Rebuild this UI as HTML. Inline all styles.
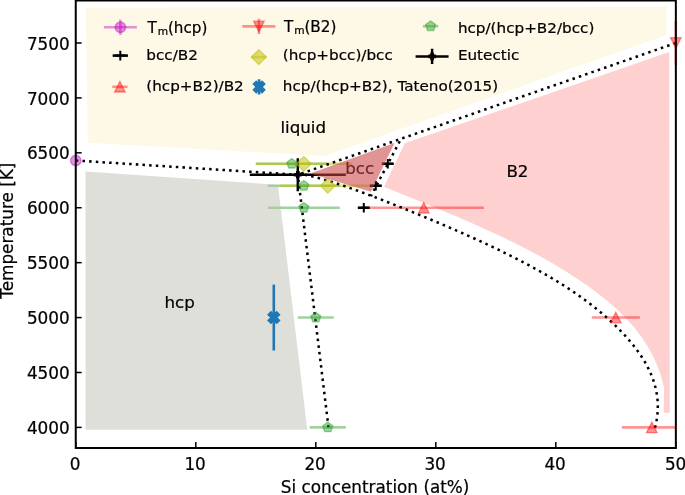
<!DOCTYPE html>
<html><head><meta charset="utf-8"><title>Phase diagram</title><style>html,body{margin:0;padding:0;background:#fff;}svg{display:block;}</style></head>
<body><svg width="685" height="495" viewBox="0 0 685 495"><defs><clipPath id="axclip"><rect x="75.75" y="0.55" width="600.1" height="447.4"/></clipPath></defs><rect width="685" height="495" fill="#fff"/><path d="M85.8,7.65 L666.7,6.85 L666.7,34.9 L324.4,156.1 L87.8,142.7 Z" fill="#fef8e6" />
<path d="M404.8,143.2 L669.2,52.1 L669.8,412.8 L663.5,412.8 L664.15,388.31 L663.74,386.43 L663.3,384.57 L662.84,382.72 L662.36,380.88 L661.85,379.07 L661.33,377.27 L660.78,375.48 L660.2,373.71 L659.61,371.96 L658.99,370.22 L658.35,368.49 L657.69,366.79 L657.01,365.09 L656.31,363.41 L655.59,361.75 L654.85,360.1 L654.08,358.47 L653.3,356.85 L652.5,355.24 L651.68,353.65 L650.84,352.07 L649.98,350.5 L649.1,348.95 L648.21,347.42 L647.29,345.89 L646.36,344.38 L645.41,342.88 L644.45,341.4 L643.46,339.93 L642.46,338.47 L641.45,337.02 L640.42,335.58 L639.37,334.16 L638.31,332.75 L637.23,331.35 L636.13,329.97 L635.02,328.59 L633.9,327.23 L632.76,325.88 L631.61,324.54 L630.44,323.21 L629.27,321.89 L628.07,320.58 L626.87,319.29 L625.65,318 L624.42,316.72 L623.18,315.46 L621.92,314.2 L620.65,312.96 L619.38,311.72 L618.09,310.5 L616.78,309.28 L615.47,308.08 L614.15,306.88 L612.82,305.69 L611.48,304.51 L610.13,303.34 L608.77,302.18 L607.4,301.03 L606.02,299.89 L604.63,298.75 L603.23,297.63 L601.83,296.51 L600.42,295.4 L599,294.3 L597.57,293.2 L596.14,292.11 L594.7,291.03 L593.25,289.96 L591.79,288.9 L590.33,287.84 L588.87,286.79 L587.4,285.74 L585.92,284.7 L584.44,283.67 L582.95,282.65 L581.46,281.63 L579.97,280.62 L578.47,279.61 L576.97,278.61 L575.46,277.61 L573.95,276.63 L572.44,275.64 L570.92,274.66 L569.4,273.69 L567.87,272.73 L566.34,271.76 L564.81,270.81 L563.27,269.86 L561.74,268.91 L560.19,267.98 L558.65,267.04 L557.1,266.11 L555.55,265.19 L553.99,264.27 L552.43,263.36 L550.87,262.45 L549.31,261.54 L547.74,260.65 L546.17,259.75 L544.59,258.86 L543.02,257.98 L541.44,257.1 L539.86,256.23 L538.27,255.35 L536.68,254.49 L535.09,253.63 L533.5,252.77 L531.91,251.92 L530.31,251.07 L528.71,250.23 L527.11,249.39 L525.5,248.55 L523.9,247.72 L522.29,246.89 L520.67,246.07 L519.06,245.25 L517.45,244.44 L515.83,243.63 L514.21,242.82 L512.59,242.02 L510.96,241.22 L509.34,240.42 L507.71,239.63 L506.08,238.84 L504.45,238.05 L502.82,237.27 L501.19,236.49 L499.55,235.72 L497.91,234.95 L496.28,234.18 L494.64,233.41 L493,232.65 L491.35,231.89 L489.71,231.13 L488.06,230.38 L486.42,229.63 L484.77,228.88 L483.12,228.14 L481.47,227.4 L479.82,226.66 L478.17,225.92 L476.52,225.19 L474.87,224.46 L473.21,223.73 L471.56,223.01 L469.9,222.28 L468.25,221.56 L466.59,220.84 L464.93,220.13 L463.27,219.41 L461.62,218.7 L459.96,217.99 L458.3,217.28 L456.64,216.58 L454.98,215.87 L453.32,215.17 L451.66,214.47 L450,213.77 L448.34,213.08 L446.68,212.38 L445.02,211.69 L443.36,211 L441.7,210.31 L440.04,209.62 L438.38,208.93 L436.72,208.25 L435.06,207.56 L433.4,206.88 L431.74,206.2 L430.08,205.52 L428.43,204.84 L426.77,204.16 L425.11,203.48 L423.46,202.81 L421.8,202.13 L420.15,201.46 L418.49,200.79 L416.84,200.11 L415.19,199.44 L413.54,198.77 L411.89,198.1 L410.24,197.43 L408.59,196.76 L406.94,196.09 L405.3,195.42 L403.65,194.75 L402.01,194.09 L400.37,193.42 L398.73,192.75 L397.09,192.08 L395.45,191.42 L393.81,190.75 L392.18,190.08 L390.54,189.42 L388.91,188.75 L387.28,188.08 L385.65,187.42 L384.03,186.75 Z" fill="#ffd0d0" />
<g clip-path="url(#axclip)">
<line x1="255.8" y1="163.81" x2="327.8" y2="163.81" stroke="rgb(44,160,44)" stroke-opacity="0.46" stroke-width="2.6"/>
<line x1="267.8" y1="185.78" x2="339.8" y2="185.78" stroke="rgb(44,160,44)" stroke-opacity="0.46" stroke-width="2.6"/>
<line x1="267.8" y1="207.74" x2="339.8" y2="207.74" stroke="rgb(44,160,44)" stroke-opacity="0.46" stroke-width="2.6"/>
<line x1="297.8" y1="317.57" x2="333.8" y2="317.57" stroke="rgb(44,160,44)" stroke-opacity="0.46" stroke-width="2.6"/>
<line x1="309.8" y1="427.4" x2="345.8" y2="427.4" stroke="rgb(44,160,44)" stroke-opacity="0.46" stroke-width="2.6"/>
<line x1="255.8" y1="163.81" x2="351.8" y2="163.81" stroke="rgb(191,191,0)" stroke-opacity="0.5" stroke-width="2.6"/>
<line x1="279.8" y1="185.78" x2="375.8" y2="185.78" stroke="rgb(191,191,0)" stroke-opacity="0.5" stroke-width="2.6"/>
<line x1="363.8" y1="207.74" x2="483.8" y2="207.74" stroke="rgb(255,0,0)" stroke-opacity="0.42" stroke-width="2.6"/>
<line x1="591.8" y1="317.57" x2="639.8" y2="317.57" stroke="rgb(255,0,0)" stroke-opacity="0.42" stroke-width="2.6"/>
<line x1="621.8" y1="427.4" x2="681.8" y2="427.4" stroke="rgb(255,0,0)" stroke-opacity="0.42" stroke-width="2.6"/>
<line x1="381.8" y1="163.81" x2="393.8" y2="163.81" stroke="rgb(0,0,0)" stroke-opacity="1" stroke-width="2.6"/>
<line x1="369.8" y1="185.78" x2="381.8" y2="185.78" stroke="rgb(0,0,0)" stroke-opacity="1" stroke-width="2.6"/>
<line x1="357.8" y1="207.74" x2="369.8" y2="207.74" stroke="rgb(0,0,0)" stroke-opacity="1" stroke-width="2.6"/>
<line x1="249.8" y1="174.79" x2="345.8" y2="174.79" stroke="rgb(0,0,0)" stroke-opacity="1" stroke-width="2.5"/>
<line x1="297.8" y1="191.27" x2="297.8" y2="158.32" stroke="rgb(0,0,0)" stroke-opacity="1" stroke-width="2.5"/>
</g>
<line x1="675.8" y1="64.96" x2="675.8" y2="21.03" stroke="rgb(255,0,0)" stroke-opacity="0.42" stroke-width="2.6"/>
<path d="M85.5,171.6 L277.9,184.8 L307.3,429.7 L85.5,429.7 Z" fill="rgb(189,191,177)" fill-opacity="0.5"/>
<line x1="273.8" y1="350.52" x2="273.8" y2="284.62" stroke="rgb(31,119,180)" stroke-opacity="1" stroke-width="2.6"/>
<text transform="translate(280.4,132.9) scale(1.0,1.0)" font-size="16.67" text-anchor="start" font-family="DejaVu Sans, sans-serif" stroke="currentColor" stroke-width="0.22" >liquid</text>
<text transform="translate(345.3,173.8) scale(1.0,1.0)" font-size="16.67" text-anchor="start" font-family="DejaVu Sans, sans-serif" stroke="currentColor" stroke-width="0.22" >bcc</text>
<text transform="translate(506.4,176.9) scale(1.0,1.0)" font-size="16.67" text-anchor="start" font-family="DejaVu Sans, sans-serif" stroke="currentColor" stroke-width="0.22" >B2</text>
<text transform="translate(164.5,307.5) scale(1.0,1.0)" font-size="16.67" text-anchor="start" font-family="DejaVu Sans, sans-serif" stroke="currentColor" stroke-width="0.22" >hcp</text>
<path d="M75.8,160.52 L297.8,174.79" fill="none" stroke="#000" stroke-width="2.52" stroke-dasharray="2.52 4.16" stroke-dashoffset="0" stroke-linecap="butt" stroke-linejoin="round"/>
<path d="M675.8,43 L297.8,174.79" fill="none" stroke="#000" stroke-width="2.52" stroke-dasharray="2.52 4.16" stroke-dashoffset="0" stroke-linecap="butt" stroke-linejoin="round"/>
<path d="M328.5,427.4 L297.8,174.79" fill="none" stroke="#000" stroke-width="2.52" stroke-dasharray="2.52 4.16" stroke-dashoffset="0" stroke-linecap="butt" stroke-linejoin="round"/>
<path d="M298.09,173.4 L299.23,173.61 L300.38,173.83 L301.52,174.05 L302.67,174.28 L303.81,174.52 L304.95,174.76 L306.09,175 L307.23,175.26 L308.37,175.51 L309.51,175.78 L310.64,176.05 L311.78,176.32 L312.91,176.6 L314.05,176.88 L315.18,177.17 L316.31,177.46 L317.44,177.75 L318.57,178.06 L319.7,178.36 L320.83,178.67 L321.95,178.99 L323.08,179.3 L324.2,179.63 L325.33,179.95 L326.45,180.28 L327.57,180.62 L328.69,180.95 L329.82,181.3 L330.94,181.64 L332.06,181.99 L333.17,182.34 L334.29,182.69 L335.41,183.05 L336.53,183.41 L337.64,183.78 L338.76,184.14 L339.87,184.51 L340.99,184.88 L342.1,185.26 L343.22,185.64 L344.33,186.02 L345.44,186.4 L346.55,186.78 L347.66,187.17 L348.78,187.56 L349.89,187.95 L351,188.34 L352.11,188.73 L353.22,189.13 L354.33,189.53 L355.43,189.93 L356.54,190.33 L357.65,190.73 L358.76,191.13 L359.87,191.54 L360.98,191.94 L362.08,192.35 L363.19,192.76 L364.3,193.17 L365.4,193.58 L366.51,193.99 L367.61,194.4 L368.72,194.82 L369.82,195.23 L370.93,195.65 L372.03,196.07 L373.14,196.49 L374.24,196.91 L375.35,197.33 L376.45,197.75 L377.55,198.17 L378.65,198.6 L379.76,199.02 L380.86,199.45 L381.96,199.88 L383.06,200.3 L384.16,200.73 L385.26,201.16 L386.37,201.59 L387.47,202.02 L388.57,202.46 L389.67,202.89 L390.76,203.32 L391.86,203.76 L392.96,204.19 L394.06,204.63 L395.16,205.07 L396.26,205.5 L397.35,205.94 L398.45,206.38 L399.55,206.82 L400.64,207.26 L401.74,207.7 L402.84,208.14 L403.93,208.58 L405.03,209.02 L406.12,209.47 L407.22,209.91 L408.31,210.35 L409.4,210.8 L410.5,211.24 L411.59,211.69 L412.68,212.13 L413.77,212.58 L414.87,213.02 L415.96,213.47 L417.05,213.92 L418.14,214.36 L419.23,214.81 L420.32,215.26 L421.41,215.71 L422.5,216.16 L423.59,216.61 L424.68,217.06 L425.77,217.51 L426.86,217.96 L427.94,218.41 L429.03,218.86 L430.12,219.32 L431.21,219.77 L432.29,220.22 L433.38,220.68 L434.46,221.13 L435.55,221.59 L436.63,222.04 L437.72,222.5 L438.8,222.96 L439.89,223.42 L440.97,223.88 L442.05,224.33 L443.13,224.79 L444.22,225.26 L445.3,225.72 L446.38,226.18 L447.46,226.64 L448.54,227.11 L449.62,227.57 L450.7,228.04 L451.78,228.5 L452.86,228.97 L453.94,229.44 L455.02,229.91 L456.09,230.38 L457.17,230.85 L458.25,231.32 L459.32,231.79 L460.4,232.26 L461.47,232.74 L462.55,233.21 L463.62,233.69 L464.7,234.16 L465.77,234.64 L466.84,235.12 L467.92,235.6 L468.99,236.08 L470.06,236.56 L471.13,237.05 L472.2,237.53 L473.27,238.01 L474.34,238.5 L475.41,238.99 L476.48,239.47 L477.55,239.96 L478.62,240.45 L479.69,240.94 L480.75,241.44 L481.82,241.93 L482.89,242.42 L483.95,242.92 L485.02,243.42 L486.08,243.91 L487.14,244.41 L488.21,244.91 L489.27,245.42 L490.33,245.92 L491.4,246.42 L492.46,246.93 L493.52,247.43 L494.58,247.94 L495.64,248.45 L496.7,248.96 L497.76,249.47 L498.82,249.99 L499.87,250.5 L500.93,251.02 L501.99,251.53 L503.05,252.05 L504.1,252.57 L505.16,253.09 L506.21,253.62 L507.27,254.14 L508.32,254.66 L509.37,255.19 L510.43,255.72 L511.48,256.25 L512.53,256.78 L513.58,257.31 L514.63,257.85 L515.68,258.38 L516.73,258.92 L517.78,259.46 L518.83,260 L519.87,260.54 L520.92,261.09 L521.97,261.63 L523.01,262.18 L524.06,262.73 L525.1,263.28 L526.15,263.83 L527.19,264.38 L528.23,264.94 L529.28,265.49 L530.32,266.05 L531.36,266.61 L532.4,267.18 L533.43,267.74 L534.47,268.31 L535.51,268.87 L536.54,269.44 L537.58,270.02 L538.61,270.59 L539.64,271.17 L540.68,271.74 L541.71,272.32 L542.74,272.91 L543.76,273.49 L544.79,274.08 L545.82,274.67 L546.84,275.26 L547.86,275.85 L548.88,276.45 L549.9,277.04 L550.92,277.64 L551.94,278.25 L552.96,278.85 L553.97,279.46 L554.98,280.07 L555.99,280.68 L557,281.3 L558.01,281.91 L559.02,282.53 L560.02,283.16 L561.02,283.78 L562.03,284.41 L563.02,285.04 L564.02,285.67 L565.02,286.31 L566.01,286.95 L567,287.59 L567.99,288.23 L568.98,288.88 L569.97,289.53 L570.95,290.18 L571.93,290.84 L572.91,291.5 L573.89,292.16 L574.86,292.82 L575.84,293.49 L576.81,294.16 L577.78,294.83 L578.74,295.51 L579.71,296.19 L580.67,296.87 L581.63,297.56 L582.59,298.25 L583.54,298.94 L584.49,299.64 L585.44,300.34 L586.39,301.04 L587.33,301.74 L588.28,302.45 L589.22,303.17 L590.15,303.88 L591.09,304.6 L592.02,305.32 L592.95,306.05 L593.87,306.78 L594.79,307.51 L595.71,308.25 L596.63,308.99 L597.55,309.74 L598.46,310.48 L599.37,311.23 L600.27,311.99 L601.17,312.75 L602.07,313.51 L602.97,314.28 L603.86,315.05 L604.75,315.82 L605.64,316.6 L606.52,317.38 L607.4,318.17 L608.28,318.96 L609.15,319.76 L610.02,320.55 L610.89,321.36 L611.75,322.16 L612.61,322.97 L613.47,323.79 L614.32,324.61 L615.17,325.43 L616.02,326.26 L616.86,327.09 L617.7,327.92 L618.54,328.76 L619.37,329.61 L620.2,330.46 L621.02,331.31 L621.84,332.17 L622.66,333.03 L623.47,333.89 L624.28,334.76 L625.08,335.64 L625.88,336.52 L626.67,337.4 L627.46,338.29 L628.24,339.18 L629.01,340.08 L629.78,340.98 L630.55,341.89 L631.3,342.8 L632.05,343.71 L632.8,344.63 L633.54,345.56 L634.27,346.48 L634.99,347.42 L635.71,348.35 L636.41,349.3 L637.11,350.24 L637.8,351.19 L638.49,352.15 L639.16,353.11 L639.83,354.07 L640.49,355.04 L641.14,356.02 L641.78,356.99 L642.41,357.98 L643.03,358.96 L643.64,359.96 L644.24,360.95 L644.83,361.95 L645.41,362.96 L645.98,363.97 L646.53,364.98 L647.08,366 L647.62,367.03 L648.14,368.06 L648.66,369.09 L649.16,370.13 L649.65,371.17 L650.12,372.22 L650.59,373.27 L651.04,374.32 L651.48,375.39 L651.91,376.45 L652.32,377.52 L652.72,378.6 L653.1,379.68 L653.48,380.76 L653.84,381.85 L654.18,382.95 L654.51,384.04 L654.82,385.15 L655.13,386.26 L655.41,387.37 L655.68,388.49 L655.94,389.61 L656.18,390.74 L656.4,391.87 L656.61,393.01 L656.8,394.15 L656.98,395.29 L657.13,396.45 L657.28,397.6 L657.4,398.76 L657.51,399.93 L657.6,401.1 L657.68,402.27 L657.73,403.45 L657.77,404.64 L657.79,405.83 L657.79,407.02 L657.77,408.22 L657.74,409.43 L657.68,410.64 L657.61,411.85 L657.52,413.07 L657.4,414.29 L657.27,415.52 L657.12,416.76 L656.95,417.99 L656.76,419.24 L656.54,420.49 L656.31,421.74 L656.06,423 L655.78,424.26 L655.49,425.53 L655.17,426.8 L654.83,428.08" fill="none" stroke="#000" stroke-width="2.52" stroke-dasharray="2.52 4.16" stroke-dashoffset="0" stroke-linecap="butt" stroke-linejoin="round"/>
<path d="M401.2,138.5 L370.9,196.1" fill="none" stroke="#000" stroke-width="2.52" stroke-dasharray="2.52 4.16" stroke-dashoffset="-3.12" stroke-linecap="butt" stroke-linejoin="round"/>
<g clip-path="url(#axclip)">
<path d="M291.8,158.56 L286.81,162.19 L288.71,168.06 L294.89,168.06 L296.79,162.19 Z" fill="rgb(44,160,44)" fill-opacity="0.46" stroke="rgb(44,160,44)" stroke-opacity="0.46" stroke-width="1.39" stroke-linejoin="miter"/>
<path d="M303.8,180.53 L298.81,184.15 L300.71,190.02 L306.89,190.02 L308.79,184.15 Z" fill="rgb(44,160,44)" fill-opacity="0.46" stroke="rgb(44,160,44)" stroke-opacity="0.46" stroke-width="1.39" stroke-linejoin="miter"/>
<path d="M303.8,202.49 L298.81,206.12 L300.71,211.99 L306.89,211.99 L308.79,206.12 Z" fill="rgb(44,160,44)" fill-opacity="0.46" stroke="rgb(44,160,44)" stroke-opacity="0.46" stroke-width="1.39" stroke-linejoin="miter"/>
<path d="M315.8,312.32 L310.81,315.95 L312.71,321.82 L318.89,321.82 L320.79,315.95 Z" fill="rgb(44,160,44)" fill-opacity="0.46" stroke="rgb(44,160,44)" stroke-opacity="0.46" stroke-width="1.39" stroke-linejoin="miter"/>
<path d="M327.8,422.15 L322.81,425.78 L324.71,431.65 L330.89,431.65 L332.79,425.78 Z" fill="rgb(44,160,44)" fill-opacity="0.46" stroke="rgb(44,160,44)" stroke-opacity="0.46" stroke-width="1.39" stroke-linejoin="miter"/>
<path d="M303.8,156.39 L311.22,163.81 L303.8,171.23 L296.38,163.81 Z" fill="rgb(191,191,0)" fill-opacity="0.5" stroke="rgb(191,191,0)" stroke-opacity="0.5" stroke-width="1.39" stroke-linejoin="miter"/>
<path d="M327.8,178.35 L335.22,185.78 L327.8,193.2 L320.38,185.78 Z" fill="rgb(191,191,0)" fill-opacity="0.5" stroke="rgb(191,191,0)" stroke-opacity="0.5" stroke-width="1.39" stroke-linejoin="miter"/>
<path d="M423.8,202.49 L418.55,212.99 L429.05,212.99 Z" fill="rgb(255,0,0)" fill-opacity="0.42" stroke="rgb(255,0,0)" stroke-opacity="0.42" stroke-width="1.39" stroke-linejoin="miter"/>
<path d="M615.8,312.32 L610.55,322.82 L621.05,322.82 Z" fill="rgb(255,0,0)" fill-opacity="0.42" stroke="rgb(255,0,0)" stroke-opacity="0.42" stroke-width="1.39" stroke-linejoin="miter"/>
<path d="M651.8,422.15 L646.55,432.65 L657.05,432.65 Z" fill="rgb(255,0,0)" fill-opacity="0.42" stroke="rgb(255,0,0)" stroke-opacity="0.42" stroke-width="1.39" stroke-linejoin="miter"/>
<path d="M383,163.81 h9.6 M387.8,159.01 v9.6" stroke="rgb(0,0,0)" stroke-width="2" fill="none"/>
<path d="M371,185.78 h9.6 M375.8,180.98 v9.6" stroke="rgb(0,0,0)" stroke-width="2" fill="none"/>
<path d="M359,207.74 h9.6 M363.8,202.94 v9.6" stroke="rgb(0,0,0)" stroke-width="2" fill="none"/>
<path d="M270.93,311.82 L273.8,314.7 L276.68,311.82 L279.55,314.7 L276.68,317.57 L279.55,320.45 L276.68,323.32 L273.8,320.45 L270.93,323.32 L268.05,320.45 L270.93,317.57 L268.05,314.7 Z" fill="rgb(31,119,180)" fill-opacity="1" stroke="rgb(31,119,180)" stroke-opacity="1" stroke-width="1.39" stroke-linejoin="miter"/>
<path d="M294.05,174.79 h7.5 M297.8,171.04 v7.5" stroke="rgb(0,0,0)" stroke-width="3.6" fill="none"/>
</g>
<circle cx="75.8" cy="160.52" r="5.25" fill="rgb(191,0,191)" fill-opacity="0.42" stroke="rgb(191,0,191)" stroke-opacity="0.42" stroke-width="1.39" stroke-linejoin="miter"/>
<path d="M675.8,48.25 L670.55,37.75 L681.05,37.75 Z" fill="rgb(255,0,0)" fill-opacity="0.42" stroke="rgb(255,0,0)" stroke-opacity="0.42" stroke-width="1.39" stroke-linejoin="miter"/>
<path d="M310.2,173.6 L394.5,143.1 L370.9,191.8 Z" fill="rgb(200,64,64)" fill-opacity="0.56"/>
<line x1="103.9" y1="27.3" x2="136.9" y2="27.3" stroke="rgb(191,0,191)" stroke-opacity="0.42" stroke-width="2.6"/>
<line x1="120.4" y1="19.66" x2="120.4" y2="34.94" stroke="rgb(191,0,191)" stroke-opacity="0.42" stroke-width="2.6"/>
<circle cx="120.4" cy="27.3" r="5.25" fill="rgb(191,0,191)" fill-opacity="0.42" stroke="rgb(191,0,191)" stroke-opacity="0.42" stroke-width="1.39" stroke-linejoin="miter"/>
<line x1="112.66" y1="55.6" x2="127.94" y2="55.6" stroke="rgb(0,0,0)" stroke-opacity="1" stroke-width="2.6"/>
<path d="M115.5,55.6 h9.6 M120.3,50.8 v9.6" stroke="rgb(0,0,0)" stroke-width="2" fill="none"/>
<line x1="112.26" y1="86.8" x2="127.54" y2="86.8" stroke="rgb(255,0,0)" stroke-opacity="0.42" stroke-width="2.6"/>
<path d="M119.9,81.55 L114.65,92.05 L125.15,92.05 Z" fill="rgb(255,0,0)" fill-opacity="0.42" stroke="rgb(255,0,0)" stroke-opacity="0.42" stroke-width="1.39" stroke-linejoin="miter"/>
<line x1="242.4" y1="26.4" x2="275.4" y2="26.4" stroke="rgb(255,0,0)" stroke-opacity="0.42" stroke-width="2.6"/>
<line x1="258.9" y1="18.76" x2="258.9" y2="34.04" stroke="rgb(255,0,0)" stroke-opacity="0.42" stroke-width="2.6"/>
<path d="M258.9,31.65 L253.65,21.15 L264.15,21.15 Z" fill="rgb(255,0,0)" fill-opacity="0.42" stroke="rgb(255,0,0)" stroke-opacity="0.42" stroke-width="1.39" stroke-linejoin="miter"/>
<line x1="251.16" y1="57.1" x2="266.44" y2="57.1" stroke="rgb(191,191,0)" stroke-opacity="0.5" stroke-width="2.6"/>
<path d="M258.8,49.68 L266.22,57.1 L258.8,64.52 L251.38,57.1 Z" fill="rgb(191,191,0)" fill-opacity="0.5" stroke="rgb(191,191,0)" stroke-opacity="0.5" stroke-width="1.39" stroke-linejoin="miter"/>
<line x1="259.1" y1="79.26" x2="259.1" y2="94.54" stroke="rgb(31,119,180)" stroke-opacity="1" stroke-width="2.6"/>
<path d="M256.23,81.15 L259.1,84.03 L261.98,81.15 L264.85,84.03 L261.98,86.9 L264.85,89.78 L261.98,92.65 L259.1,89.78 L256.23,92.65 L253.35,89.78 L256.23,86.9 L253.35,84.03 Z" fill="rgb(31,119,180)" fill-opacity="1" stroke="rgb(31,119,180)" stroke-opacity="1" stroke-width="1.39" stroke-linejoin="miter"/>
<line x1="422.96" y1="26.2" x2="438.24" y2="26.2" stroke="rgb(44,160,44)" stroke-opacity="0.46" stroke-width="2.6"/>
<path d="M430.6,20.95 L425.61,24.58 L427.51,30.45 L433.69,30.45 L435.59,24.58 Z" fill="rgb(44,160,44)" fill-opacity="0.46" stroke="rgb(44,160,44)" stroke-opacity="0.46" stroke-width="1.39" stroke-linejoin="miter"/>
<line x1="415.6" y1="56.4" x2="448.6" y2="56.4" stroke="rgb(0,0,0)" stroke-opacity="1" stroke-width="2.5"/>
<line x1="432.1" y1="48.76" x2="432.1" y2="64.04" stroke="rgb(0,0,0)" stroke-opacity="1" stroke-width="2.5"/>
<path d="M428.35,56.4 h7.5 M432.1,52.65 v7.5" stroke="rgb(0,0,0)" stroke-width="3.6" fill="none"/>
<text transform="translate(147.5,33.1) scale(1.0,1.03)" font-size="15.2" font-family="DejaVu Sans, sans-serif" stroke="currentColor" stroke-width="0.22">T<tspan font-size="10.64" dx="0.9" dy="1.4">m</tspan><tspan dx="-0.1" dy="-1.4">(hcp)</tspan></text>
<text transform="translate(146.3,59.9) scale(1.0,0.98)" font-size="15.2" text-anchor="start" font-family="DejaVu Sans, sans-serif" stroke="currentColor" stroke-width="0.22" >bcc/B2</text>
<text transform="translate(146.3,90.6) scale(1.0,0.98)" font-size="15.2" text-anchor="start" font-family="DejaVu Sans, sans-serif" stroke="currentColor" stroke-width="0.22" >(hcp+B2)/B2</text>
<text transform="translate(284,32.3) scale(1.0,1.03)" font-size="15.2" font-family="DejaVu Sans, sans-serif" stroke="currentColor" stroke-width="0.22">T<tspan font-size="10.64" dx="0.9" dy="1.4">m</tspan><tspan dx="-0.1" dy="-1.4">(B2)</tspan></text>
<text transform="translate(282.8,60.4) scale(1.0,0.98)" font-size="15.2" text-anchor="start" font-family="DejaVu Sans, sans-serif" stroke="currentColor" stroke-width="0.22" >(hcp+bcc)/bcc</text>
<text transform="translate(282.8,90.6) scale(1.0,0.98)" font-size="15.2" text-anchor="start" font-family="DejaVu Sans, sans-serif" stroke="currentColor" stroke-width="0.22" >hcp/(hcp+B2), Tateno(2015)</text>
<text transform="translate(457.9,32.8) scale(1.0,0.98)" font-size="15.2" text-anchor="start" font-family="DejaVu Sans, sans-serif" stroke="currentColor" stroke-width="0.22" >hcp/(hcp+B2/bcc)</text>
<text transform="translate(457.9,59.9) scale(1.0,0.98)" font-size="15.2" text-anchor="start" font-family="DejaVu Sans, sans-serif" stroke="currentColor" stroke-width="0.22" >Eutectic</text>
<path d="M75.75,0.55 V447.95 H675.85 V0.55" fill="none" stroke="#000" stroke-width="2" stroke-linejoin="miter" stroke-linecap="square"/>
<line x1="75.75" y1="0.55" x2="675.85" y2="0.55" stroke="#000" stroke-width="2"/>
<line x1="75.8" y1="447.95" x2="75.8" y2="442.05" stroke="#000" stroke-width="1.5"/>
<text transform="translate(75.1,470) scale(1.01,1.02)" font-size="16.67" text-anchor="middle" font-family="DejaVu Sans, sans-serif" stroke="currentColor" stroke-width="0.22" >0</text>
<line x1="195.8" y1="447.95" x2="195.8" y2="442.05" stroke="#000" stroke-width="1.5"/>
<text transform="translate(195.1,470) scale(1.01,1.02)" font-size="16.67" text-anchor="middle" font-family="DejaVu Sans, sans-serif" stroke="currentColor" stroke-width="0.22" >10</text>
<line x1="315.8" y1="447.95" x2="315.8" y2="442.05" stroke="#000" stroke-width="1.5"/>
<text transform="translate(315.1,470) scale(1.01,1.02)" font-size="16.67" text-anchor="middle" font-family="DejaVu Sans, sans-serif" stroke="currentColor" stroke-width="0.22" >20</text>
<line x1="435.8" y1="447.95" x2="435.8" y2="442.05" stroke="#000" stroke-width="1.5"/>
<text transform="translate(435.1,470) scale(1.01,1.02)" font-size="16.67" text-anchor="middle" font-family="DejaVu Sans, sans-serif" stroke="currentColor" stroke-width="0.22" >30</text>
<line x1="555.8" y1="447.95" x2="555.8" y2="442.05" stroke="#000" stroke-width="1.5"/>
<text transform="translate(555.1,470) scale(1.01,1.02)" font-size="16.67" text-anchor="middle" font-family="DejaVu Sans, sans-serif" stroke="currentColor" stroke-width="0.22" >40</text>
<line x1="675.8" y1="447.95" x2="675.8" y2="442.05" stroke="#000" stroke-width="1.5"/>
<text transform="translate(675.6,470) scale(1.01,1.02)" font-size="16.67" text-anchor="middle" font-family="DejaVu Sans, sans-serif" stroke="currentColor" stroke-width="0.22" >50</text>
<line x1="75.75" y1="427.4" x2="81.65" y2="427.4" stroke="#000" stroke-width="1.5"/>
<text transform="translate(69.7,434.05) scale(1.01,1.02)" font-size="16.67" text-anchor="end" font-family="DejaVu Sans, sans-serif" stroke="currentColor" stroke-width="0.22" >4000</text>
<line x1="75.75" y1="372.49" x2="81.65" y2="372.49" stroke="#000" stroke-width="1.5"/>
<text transform="translate(69.7,379.14) scale(1.01,1.02)" font-size="16.67" text-anchor="end" font-family="DejaVu Sans, sans-serif" stroke="currentColor" stroke-width="0.22" >4500</text>
<line x1="75.75" y1="317.57" x2="81.65" y2="317.57" stroke="#000" stroke-width="1.5"/>
<text transform="translate(69.7,324.22) scale(1.01,1.02)" font-size="16.67" text-anchor="end" font-family="DejaVu Sans, sans-serif" stroke="currentColor" stroke-width="0.22" >5000</text>
<line x1="75.75" y1="262.66" x2="81.65" y2="262.66" stroke="#000" stroke-width="1.5"/>
<text transform="translate(69.7,269.31) scale(1.01,1.02)" font-size="16.67" text-anchor="end" font-family="DejaVu Sans, sans-serif" stroke="currentColor" stroke-width="0.22" >5500</text>
<line x1="75.75" y1="207.74" x2="81.65" y2="207.74" stroke="#000" stroke-width="1.5"/>
<text transform="translate(69.7,214.39) scale(1.01,1.02)" font-size="16.67" text-anchor="end" font-family="DejaVu Sans, sans-serif" stroke="currentColor" stroke-width="0.22" >6000</text>
<line x1="75.75" y1="152.83" x2="81.65" y2="152.83" stroke="#000" stroke-width="1.5"/>
<text transform="translate(69.7,159.48) scale(1.01,1.02)" font-size="16.67" text-anchor="end" font-family="DejaVu Sans, sans-serif" stroke="currentColor" stroke-width="0.22" >6500</text>
<line x1="75.75" y1="97.91" x2="81.65" y2="97.91" stroke="#000" stroke-width="1.5"/>
<text transform="translate(69.7,104.56) scale(1.01,1.02)" font-size="16.67" text-anchor="end" font-family="DejaVu Sans, sans-serif" stroke="currentColor" stroke-width="0.22" >7000</text>
<line x1="75.75" y1="43" x2="81.65" y2="43" stroke="#000" stroke-width="1.5"/>
<text transform="translate(69.7,49.65) scale(1.01,1.02)" font-size="16.67" text-anchor="end" font-family="DejaVu Sans, sans-serif" stroke="currentColor" stroke-width="0.22" >7500</text>
<text transform="translate(375.1,492.5) scale(1.01,1.02)" font-size="16.67" text-anchor="middle" font-family="DejaVu Sans, sans-serif" stroke="currentColor" stroke-width="0.22" >Si concentration (at%)</text>
<text x="0" y="0" font-size="16.67" text-anchor="middle" font-family="DejaVu Sans, sans-serif" stroke="currentColor" stroke-width="0.22" transform="translate(12.7,230.7) rotate(-90) scale(1.01,1.02)">Temperature [K]</text></svg></body></html>
